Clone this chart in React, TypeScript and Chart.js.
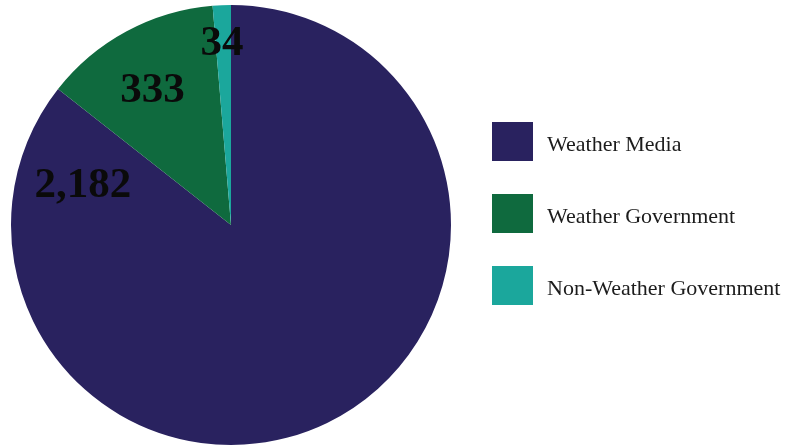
import React, { useEffect, useRef } from "react";
import { Chart, registerables } from "chart.js";

Chart.register(...registerables);

// Audience counts by source type
const categories = ["Weather Media", "Weather Government", "Non-Weather Government"];
const counts = [2182, 333, 34];
const sliceColors = ["#29225f", "#0f6a3e", "#1ba79c"];

// Where each value label sits: fraction along the slice's sweep and fraction of the radius
const labelAngleFrac = [0.928, 0.47, 0.42];
const labelRadiusFrac = [0.7, 0.72, 0.84];

const W = 793;
const H = 446;
const LABEL_SIZE = 43;

const valueLabels = {
  id: "valueLabels",
  afterDatasetsDraw(chart: any) {
    const { ctx } = chart;
    const meta = chart.getDatasetMeta(0);
    ctx.save();
    ctx.font = `bold ${LABEL_SIZE}px 'Liberation Serif', 'Times New Roman', serif`;
    ctx.fillStyle = "#0a0a0a";
    ctx.textAlign = "center";
    ctx.textBaseline = "alphabetic";
    meta.data.forEach((arc: any, i: number) => {
      const p = arc.getProps(["x", "y", "startAngle", "endAngle", "outerRadius"], true);
      const a = p.startAngle + labelAngleFrac[i] * (p.endAngle - p.startAngle);
      const r = labelRadiusFrac[i] * p.outerRadius;
      const text = counts[i].toLocaleString("en-US");
      const tx = p.x + Math.cos(a) * r;
      const ty = p.y + Math.sin(a) * r + LABEL_SIZE * 0.34;
      ctx.fillText(text, tx, ty);
    });
    ctx.restore();
  },
};

export default function App() {
  const canvasRef = useRef<HTMLCanvasElement | null>(null);

  useEffect(() => {
    if (!canvasRef.current) return;
    const chart = new Chart(canvasRef.current, {
      type: "pie",
      data: {
        labels: categories,
        datasets: [
          {
            data: counts,
            backgroundColor: sliceColors,
            borderWidth: 0,
          },
        ],
      },
      options: {
        responsive: false,
        animation: false,
        layout: { padding: { left: 11, right: 342, top: 5, bottom: 1 } },
        plugins: {
          legend: { display: false },
          tooltip: { enabled: false },
        },
      },
      plugins: [valueLabels],
    });
    return () => chart.destroy();
  }, []);

  return (
    <div
      style={{
        position: "fixed",
        left: 0,
        top: 0,
        width: W,
        height: H,
        background: "#ffffff",
      }}
    >
      <canvas ref={canvasRef} width={W} height={H} style={{ display: "block" }} />
      <div
        style={{
          position: "absolute",
          left: 492,
          top: 122,
          fontFamily: "'Liberation Serif', 'Times New Roman', serif",
          fontSize: 22,
          color: "#1c1c1c",
        }}
      >
        {categories.map((c, i) => (
          <div
            key={c}
            style={{ display: "flex", alignItems: "center", height: 39, marginBottom: 33 }}
          >
            <div style={{ width: 41, height: 39, background: sliceColors[i], flex: "none" }} />
            <span
              style={{
                marginLeft: 14,
                whiteSpace: "nowrap",
                lineHeight: "39px",
                position: "relative",
                top: 2,
              }}
            >
              {c}
            </span>
          </div>
        ))}
      </div>
    </div>
  );
}
